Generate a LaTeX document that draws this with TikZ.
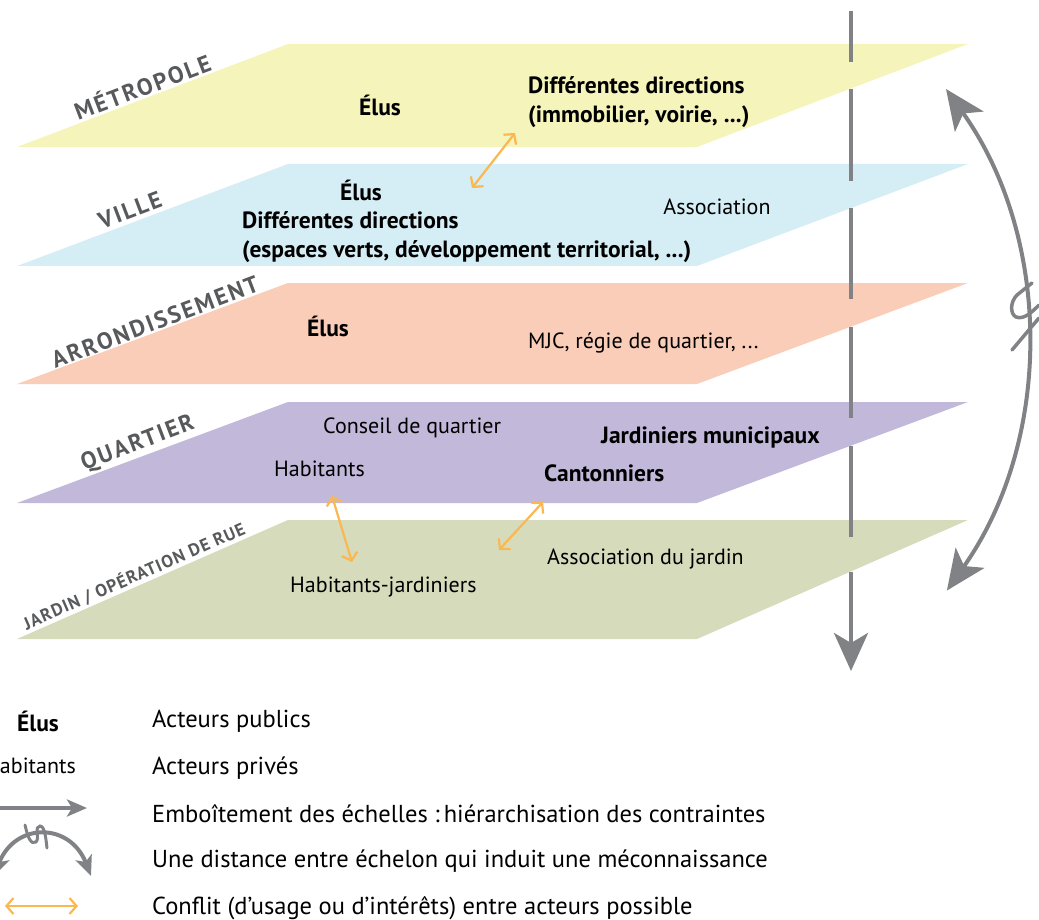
\documentclass[tikz,border=0pt]{standalone}
\usepackage{fontspec}
\setmainfont{PT Sans}
\usetikzlibrary{arrows.meta}
\definecolor{cMet}{RGB}{245,244,187}
\definecolor{cVil}{RGB}{213,237,245}
\definecolor{cArr}{RGB}{250,205,185}
\definecolor{cQua}{RGB}{194,184,217}
\definecolor{cJar}{RGB}{214,219,188}
\definecolor{cGray}{RGB}{128,130,133}
\definecolor{cLab}{RGB}{88,89,91}
\definecolor{cOr}{RGB}{251,183,80}
\tikzset{
  lvl/.style={font=\fontsize{23.5}{26}\selectfont\bfseries\addfontfeatures{LetterSpace=9}, text=cLab, inner sep=0pt},
  lvlsmall/.style={font=\fontsize{17.5}{20}\selectfont\bfseries\addfontfeatures{LetterSpace=6}, text=cLab, inner sep=0pt},
  bt/.style={font=\fontsize{23.5}{29}\selectfont\bfseries, inner sep=0pt, align=left},
  rt/.style={font=\fontsize{22}{27}\selectfont, inner sep=0pt, align=left},
  lg/.style={font=\fontsize{24.5}{28}\selectfont, inner sep=0pt, anchor=west},
  conflict/.style={draw=cOr, line width=2.2pt, {Straight Barb[length=7pt,width=16pt]}-{Straight Barb[length=7pt,width=16pt]}},
  scaleline/.style={draw=cGray, line width=4.5pt},
  bigtip/.style={-{Stealth[length=38pt,width=34pt,inset=10pt]}},
  squig/.style={draw=cGray, line width=3.5pt, line cap=round},
}
\begin{document}
\begin{tikzpicture}[x=1pt,y=-1pt]
\useasboundingbox (0,0) rectangle (1039,920);
\clip (0,0) rectangle (1039,920);
% planes
\fill[cMet] (17,147) -- (288,44) -- (968,44) -- (697,147) -- cycle;
\fill[cVil] (17,266) -- (288,164) -- (968,164) -- (697,266) -- cycle;
\fill[cArr] (17,384) -- (288,283) -- (968,283) -- (697,384) -- cycle;
\fill[cQua] (17,503) -- (288,402) -- (968,402) -- (697,503) -- cycle;
\fill[cJar] (17,639) -- (288,520) -- (968,520) -- (697,639) -- cycle;
% level labels
\node[lvl, rotate=20.8] (lmet) at (142,86) {MÉTROPOLE};
\node[lvl, rotate=20.8] (lvil) at (130,210) {VILLE};
\node[lvl, rotate=20.8] (larr) at (155,322) {ARRONDISSEMENT};
\node[lvl, rotate=20.8] (lqua) at (138,444) {QUARTIER};
\node[lvlsmall, rotate=23.7] (ljar) at (134,576) {JARDIN / OPÉRATION DE RUE};
% vertical scale line
\coordinate (v0) at (851,11);
\coordinate (v1) at (851,62);
\coordinate (v2) at (851,89);
\coordinate (v3) at (851,181);
\coordinate (v4) at (851,208);
\coordinate (v5) at (851,299);
\coordinate (v6) at (851,327);
\coordinate (v7) at (851,418);
\coordinate (v8) at (851,446);
\coordinate (v9) at (851,537);
\coordinate (v10) at (851,572);
\coordinate (v11) at (851,671);
\draw[scaleline] (v0) -- (v1);
\draw[scaleline] (v2) -- (v3);
\draw[scaleline] (v4) -- (v5);
\draw[scaleline] (v6) -- (v7);
\draw[scaleline] (v8) -- (v9);
\draw[scaleline, bigtip] (v10) -- (v11);
% texts
\node[bt] (met1) at (380,105) {Élus};
\node[bt, anchor=west] (met2) at (528,102) {Différentes directions\\(immobilier, voirie, ...)};
\node[bt] (vil1) at (361,190) {Élus};
\node[bt, anchor=west] (vil2) at (242,237) {Différentes directions\\(espaces verts, développement territorial, ...)};
\node[rt] (vil3) at (717,207) {Association};
\node[bt] (arr1) at (328,326) {Élus};
\node[rt, anchor=west] (arr2) at (528,343) {MJC, régie de quartier, ...};
\node[rt, anchor=west] (qua1) at (323,428) {Conseil de quartier};
\node[rt, anchor=west] (qua2) at (274,469) {Habitants};
\node[bt, anchor=west] (qua3) at (601,437) {Jardiniers municipaux};
\node[bt, anchor=west] (qua4) at (544,473) {Cantonniers};
\node[rt, anchor=west] (jar1) at (290,587) {Habitants-jardiniers};
\node[rt, anchor=west] (jar2) at (547,559) {Association du jardin};
% conflicts
\coordinate (c1a) at (472,188);
\coordinate (c1b) at (515,133);
\coordinate (c2a) at (332,496);
\coordinate (c2b) at (352,562);
\coordinate (c3a) at (543,502);
\coordinate (c3b) at (499,550);
\draw[conflict] (c1a) -- (c1b);
\draw[conflict] (c2a) -- (c2b);
\draw[conflict] (c3a) -- (c3b);
% distance arc
\coordinate (dtop) at (946,89);
\draw[draw=cGray, line width=4pt, {Stealth[length=40pt,width=35pt,inset=10pt]}-{Stealth[length=40pt,width=35pt,inset=10pt]}]
  (dtop) arc[start angle=-35.4, end angle=35.2, radius=434];
\draw[squig] (1032,283) -- (1017,295) .. controls (1010,302) and (1010,314) .. (1016,317) .. controls (1024,320) and (1032,312) .. (1039,305);
\draw[squig] (1012,350) -- (1039,318);
% legend
\node[bt] (lgelus) at (38,721) {Élus};
\node[rt, anchor=east] (lghab) at (76,766) {Habitants};
\coordinate (la0) at (-5,808);
\coordinate (la1) at (87,808);
\draw[draw=cGray, line width=4pt, -{Stealth[length=20pt,width=17pt,inset=5pt]}] (la0) -- (la1);
\coordinate (lb0) at (-6,876);
\coordinate (lb1) at (91,876);
\draw[draw=cGray, line width=4pt, {Stealth[length=20pt,width=17pt,inset=5pt]}-{Stealth[length=20pt,width=17pt,inset=5pt]}]
  (lb0) .. controls (15,822) and (70,822) .. (lb1);
\draw[draw=cGray, line width=3pt, line cap=round] (25,825) .. controls (28,838) and (31,845) .. (36,842) .. controls (40,838) and (34,826) .. (40,826) .. controls (45,826) and (46,840) .. (47,848);
\coordinate (lc0) at (5,906);
\coordinate (lc1) at (78,906);
\draw[conflict] (lc0) -- (lc1);
\node[lg] (t1) at (152,721) {Acteurs publics};
\node[lg] (t2) at (152,768) {Acteurs privés};
\node[lg] (t3) at (152,814) {Emboîtement des échelles~:\,hiérarchisation des contraintes};
\node[lg] (t4) at (152,861) {Une distance entre échelon qui induit une méconnaissance};
\node[lg] (t5) at (152,908) {Conflit (d’usage ou d’intérêts) entre acteurs possible};
\end{tikzpicture}
\end{document}
